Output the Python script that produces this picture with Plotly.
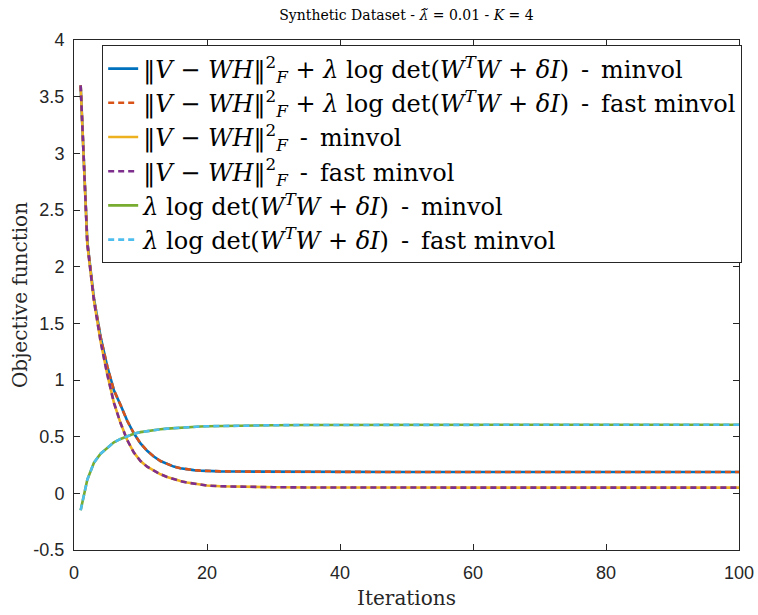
import plotly.graph_objects as go

# ---------------- data ----------------
iterations = [1, 2, 3, 4, 5, 6, 7, 8, 9, 10, 11, 12, 13, 14, 15, 16, 17, 18, 19, 20,
              22, 25, 30, 35, 40, 50, 60, 70, 80, 90, 100]

total_minvol = [3.60, 2.22, 1.72, 1.38, 1.12, 0.91, 0.78, 0.64, 0.53, 0.44, 0.375, 0.325,
                0.285, 0.258, 0.236, 0.222, 0.212, 0.205, 0.200, 0.197,
                0.194, 0.192, 0.190, 0.189, 0.189, 0.188, 0.188, 0.188, 0.188, 0.188, 0.188]
total_fast = [3.60, 2.22, 1.72, 1.38, 1.12, 0.91, 0.78, 0.64, 0.53, 0.44, 0.375, 0.325,
              0.285, 0.258, 0.236, 0.222, 0.212, 0.205, 0.200, 0.197,
              0.194, 0.192, 0.190, 0.189, 0.189, 0.188, 0.188, 0.188, 0.188, 0.188, 0.188]

fit_minvol = [3.60, 2.20, 1.70, 1.34, 1.05, 0.80, 0.62, 0.47, 0.36, 0.285, 0.235, 0.198,
              0.168, 0.145, 0.125, 0.108, 0.095, 0.085, 0.076, 0.069,
              0.062, 0.057, 0.054, 0.052, 0.051, 0.050, 0.050, 0.050, 0.050, 0.050, 0.050]
fit_fast = [3.60, 2.20, 1.70, 1.34, 1.05, 0.80, 0.62, 0.47, 0.36, 0.285, 0.235, 0.198,
            0.168, 0.145, 0.125, 0.108, 0.095, 0.085, 0.076, 0.069,
            0.062, 0.057, 0.054, 0.052, 0.051, 0.050, 0.050, 0.050, 0.050, 0.050, 0.050]

logdet_minvol = [-0.15, 0.12, 0.27, 0.35, 0.40, 0.45, 0.48, 0.505, 0.525, 0.54, 0.55, 0.558,
                 0.565, 0.571, 0.576, 0.580, 0.584, 0.587, 0.590, 0.592,
                 0.595, 0.598, 0.601, 0.603, 0.604, 0.605, 0.605, 0.605, 0.605, 0.605, 0.605]
logdet_fast = [-0.15, 0.12, 0.27, 0.35, 0.40, 0.45, 0.48, 0.505, 0.525, 0.54, 0.55, 0.558,
               0.565, 0.571, 0.576, 0.580, 0.584, 0.587, 0.590, 0.592,
               0.595, 0.598, 0.601, 0.603, 0.604, 0.605, 0.605, 0.605, 0.605, 0.605, 0.605]

D = "\u2002-\u2002"  # text-mode " - " separator
fit_txt = "‖<i>V</i> − <i>WH</i>‖<sup>2</sup><sub><i>F</i></sub>"
logdet_txt = "<i>λ</i> log det(<i>W</i><sup><i>T</i></sup><i>W</i> + <i>δI</i>)"
series_names = [
    f"{fit_txt} + {logdet_txt}{D}minvol",
    f"{fit_txt} + {logdet_txt}{D}fast minvol",
    f"{fit_txt}{D}minvol",
    f"{fit_txt}{D}fast minvol",
    f"{logdet_txt}{D}minvol",
    f"{logdet_txt}{D}fast minvol",
]

x_tickvals = [0, 20, 40, 60, 80, 100]
y_tickvals = [-0.5, 0, 0.5, 1, 1.5, 2, 2.5, 3, 3.5, 4]
y_ticktext = ["-0.5", "0", "0.5", "1", "1.5", "2", "2.5", "3", "3.5", "4"]

# ---------------- styles ----------------
colors = ["#0072BD", "#D95319", "#EDB120", "#7E2F8E", "#77AC30", "#4DBEEE"]
dashes = ["solid", "6px,4px", "solid", "6px,4px", "solid", "6px,4px"]
values = [total_minvol, total_fast, fit_minvol, fit_fast, logdet_minvol, logdet_fast]

serif = "DejaVu Serif, serif"
sans = "Liberation Sans, Arial, sans-serif"
axis_col = "#262626"

fig = go.Figure()
for i, (name, vals) in enumerate(zip(series_names, values)):
    fig.add_trace(go.Scatter(
        x=iterations, y=vals, mode="lines", name=name,
        legendgroup=f"g{i}",
        line=dict(color=colors[i], width=2.6, dash=dashes[i]),
    ))

W, H = 758, 615
L, R, T, B = 73.5, 739, 39.5, 550

fig.update_layout(
    width=W, height=H,
    margin=dict(l=L, r=W - R, t=T, b=H - B, pad=0, autoexpand=False),
    paper_bgcolor="white", plot_bgcolor="white",
    title=dict(text="Synthetic Dataset - <i>λ̃</i> = 0.01 - <i>K</i> = 4",
               font=dict(family=serif, size=14, color="black"),
               x=0.5, xanchor="center", xref="paper",
               y=1 - 15 / H, yanchor="middle", yref="container"),
    showlegend=True,
    legend=dict(
        x=(101.7 - L) / (R - L), y=1 - (45 - T) / (B - T),
        xanchor="left", yanchor="top",
        bgcolor="white", bordercolor="#262626", borderwidth=1,
        font=dict(family=serif, size=24, color="black"),
        tracegroupgap=0, traceorder="normal",
    ),
    xaxis=dict(
        range=[0, 100], tickvals=x_tickvals, ticktext=[str(v) for v in x_tickvals],
        showgrid=False, zeroline=False, automargin=False,
        showline=True, linecolor=axis_col, linewidth=1, mirror="ticks",
        ticks="inside", ticklen=6, tickcolor=axis_col, tickwidth=1,
        ticklabelstandoff=6,
        tickfont=dict(family=sans, size=18, color=axis_col),
        title=dict(text="Iterations", font=dict(family=serif, size=20, color=axis_col), standoff=9),
    ),
    yaxis=dict(
        range=[-0.5, 4], tickvals=y_tickvals, ticktext=y_ticktext,
        showgrid=False, zeroline=False, automargin=False,
        showline=True, linecolor=axis_col, linewidth=1, mirror="ticks",
        ticks="inside", ticklen=6, tickcolor=axis_col, tickwidth=1,
        ticklabelstandoff=5,
        tickfont=dict(family=sans, size=18, color=axis_col),
        title=dict(text="Objective function", font=dict(family=serif, size=20, color=axis_col), standoff=0),
    ),
)

fig.write_html("out.html", config={"displayModeBar": False},
               post_script="document.body.style.margin='0px';")
